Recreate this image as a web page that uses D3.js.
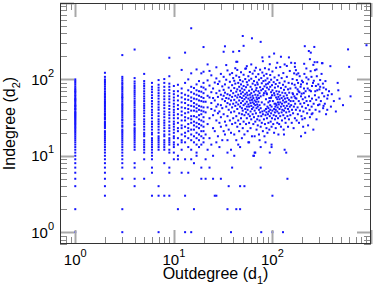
<!DOCTYPE html>
<html><head><meta charset="utf-8">
<script src="https://cdn.jsdelivr.net/npm/d3@7"></script>
<style>
html,body{margin:0;padding:0;background:#fff;}
svg{display:block;font-family:"Liberation Sans",Arial,sans-serif;}
</style></head>
<body><svg id="c" width="374" height="288"></svg>
<script>
// ---- data ----
const xDomain = [0.7, 1000];
const yDomain = [0.7, 1000];
const majorTicks = [1, 10, 100];
const tickExponents = ["0", "1", "2"];
const xTitle = "Outdegree (d";
const xTitleSub = "1";
const yTitle = "Indegree (d";
const yTitleSub = "2";

// integer-outdegree columns (d1 = columnX[i], d2 values = columnY[i])
const columnX = [1,2,3,4,5,6,7,8,9,10,11,12,13,14,15,16,17,18,19,20];
const columnY = [
 [1,2,4,5,6,7,8,9,10,11,12,13,14,15,16,17,18,19,20,21,22,23,24,25,26,27,28,29,30,31,32,33,34,35,36,37,38,40,41,42,44,45,46,48,50,52,54,55,57,60,62,65,68,70,73,76,80,85,90,95,100],
 [3,4,5,6,7,8,9,10,11,12,13,14,15,16,17,18,19,20,21,23,24,25,26,27,28,30,31,32,34,35,36,38,40,42,44,46,48,50,52,55,58,60,63,66,70,75,80,85,90,95,100,108,122],
 [1,2,5,7,8,9,10,11,12,13,14,15,16,17,18,19,20,21,22,24,25,27,29,30,32,34,36,38,40,42,44,46,48,51,54,57,59,62,65,69,73,77,81,86,90,96,102,108,208],
 [4,5,7,8,12,13,14,15,16,17,18,19,20,21,22,23,25,26,28,30,32,34,36,38,40,43,46,49,52,56,60,64,68,72,77,82,88,94,104,246],
 [5,9,11,12,13,14,15,16,18,19,20,22,24,26,28,30,33,36,39,42,45,48,52,56,60,65,70,76,82,88,95,118],
 [3,6,7,9,10,11,12,13,14,15,16,17,19,20,22,24,26,28,31,34,37,40,44,48,52,57,62,68,74,80,90],
 [1,3,4,12,13,14,15,16,17,18,20,22,24,26,28,30,33,36,40,43,47,51,56,61,66,72,78,85,98],
 [3,8,12,13,14,15,16,18,19,21,23,25,27,29,32,35,38,42,46,50,55,60,66,72,80,90,101],
 [3,6,7,11,12,14,15,16,17,19,21,23,25,28,31,34,37,41,45,50,55,60,66,73,80,88,110,192],
 [9,11,13,14,15,17,18,20,22,24,26,28,31,34,37,40,44,48,53,58,64,70,82],
 [2,9,10,14,17,21,23,27,31,35,41,46,53,61,70,85],
 [6,12,15,16,19,23,25,29,34,38,43,50,58,66,76,133],
 [1,3,9,15,18,20,24,29,32,36,42,49,55,63,90,224],
 [6,13,17,21,23,26,31,37,41,46,54,61,72,100],
 [1,9,12,16,19,22,27,30,33,39,45,52,58,68,80,120,467],
 [2,8,15,18,22,25,28,33,39,44,49,56,65,77],
 [10,11,14,17,20,24,27,32,38,42,47,55,63,72,86,135],
 [13,16,19,23,26,30,34,40,45,53,61,70,95],
 [5,7,14,18,21,25,29,35,39,44,52,59,69,80,120],
 [15,17,21,24,28,32,38,43,51,57,66,78,90,126,265]
];

// remaining nodes as [outdegree, indegree]
const scatterPoints = [
 [21,5],[21,9],[21,19],[21,37],[21,51],[21,74],[22,12],[22,157],[22,26],[22,43],[22,61],[22,97],
 [23,7],[23,129],[23,17],[23,31],[23,58],[23,83],[24,14],[24,41],[24,49],[24,68],[24,113],
 [25,5],[25,10],[25,23],[25,34],[25,57],[25,76],[26,3],[26,21],[26,39],[26,53],[26,91],
 [27,3],[27,144],[27,15],[27,29],[27,44],[27,66],[27,103],[28,18],[28,36],[28,47],[28,59],[28,87],
 [29,13],[29,27],[29,38],[29,71],[29,94],[30,5],[30,24],[30,32],[30,46],[30,63],[30,118],
 [31,16],[31,42],[31,55],[31,81],[32,230],[32,21],[32,35],[32,61],[32,73],[32,108],
 [33,271],[33,19],[33,28],[33,52],[33,67],[33,86],[34,154],[34,25],[34,44],[34,57],[34,99],
 [35,2],[35,11],[35,16],[35,33],[35,49],[35,64],[35,131],[36,4],[36,22],[36,40],[36,78],[36,56],
 [37,29],[37,47],[37,62],[37,93],[37,116],[38,1],[38,12],[38,20],[38,37],[38,53],[38,71],
 [39,7],[39,26],[39,43],[39,59],[39,84],[39,121],[40,230],[40,31],[40,48],[40,66],[40,104],
 [41,10],[41,19],[41,38],[41,54],[41,77],[41,96],[42,27],[42,45],[42,61],[42,140],[42,88],
 [43,2],[43,170],[43,16],[43,33],[43,50],[43,69],[43,112],[44,170],[44,24],[44,41],[44,58],[44,74],[44,133],
 [45,14],[45,29],[45,47],[45,63],[45,90],[46,235],[46,21],[46,36],[46,53],[46,80],[46,107],
 [47,2],[47,4],[47,13],[47,26],[47,44],[47,59],[47,71],[47,98],[48,31],[48,49],[48,65],[48,86],[48,124],
 [49,17],[49,35],[49,42],[49,57],[49,76],[50,370],[50,23],[50,39],[50,52],[50,68],[50,94],
 [51,275],[51,28],[51,46],[51,61],[51,82],[51,115],[52,4],[52,19],[52,34],[52,55],[52,73],
 [53,41],[53,48],[53,64],[53,101],[53,138],[54,139],[54,26],[54,37],[54,58],[54,79],
 [55,149],[55,31],[55,44],[55,51],[55,67],[55,92],[56,21],[56,40],[56,62],[56,85],
 [57,15],[57,35],[57,47],[57,56],[57,110],[58,15],[58,27],[58,44],[58,71],[58,97],
 [59,33],[59,53],[59,63],[59,125],[60,23],[60,38],[60,49],[60,58],[60,80],
 [61,157],[61,30],[61,45],[61,66],[61,102],[62,345],[62,18],[62,41],[62,54],[62,74],
 [63,35],[63,50],[63,61],[63,88],[63,119],[64,10],[64,26],[64,43],[64,57],
 [65,10],[65,32],[65,48],[65,69],[65,95],[66,11],[66,18],[66,39],[66,53],[66,130],
 [67,11],[67,28],[67,46],[67,63],[67,84],[68,142],[68,36],[68,51],[68,72],[68,108],
 [69,22],[69,42],[69,58],[69,77],[70,30],[70,47],[70,55],[70,91],
 [71,25],[71,44],[71,62],[71,86],[72,33],[72,51],[72,70],[72,117],[73,19],[73,40],[73,57],[73,99],
 [74,16],[74,29],[74,46],[74,66],[75,37],[75,79],[75,134],[76,310],[76,13],[76,7],[76,24],[76,42],[76,60],
 [77,1],[77,33],[77,72],[77,104],[78,27],[78,50],[78,89],[79,194],[79,38],[79,123],
 [80,173],[80,21],[80,35],[80,75],[81,62],[81,95],[82,30],[82,66],[82,112],
 [83,18],[83,39],[83,47],[83,81],[84,26],[84,140],[85,15],[85,34],[85,70],[85,97],
 [86,41],[86,55],[86,86],[87,23],[87,37],[87,66],[87,118],[88,31],[88,64],[88,78],
 [89,20],[89,44],[89,103],[90,35],[90,88],[91,27],[91,42],[91,50],
 [92,38],[92,74],[92,135],[93,198],[93,22],[93,57],[93,92],[94,11],[94,158],[94,33],[94,52],
 [95,40],[95,46],[95,80],[95,114],[96,28],[96,57],[97,36],[97,58],[97,68],[97,99],
 [98,13],[98,14],[98,24],[98,44],[99,31],[99,62],[99,84],
 [100,1],[100,3],[100,39],[100,72],[100,127],[101,52],[102,26],[103,34],[103,92],
 [104,218],[104,20],[104,41],[104,66],[105,48],[105,62],[105,106],[106,30],[106,37],[106,78],
 [107,44],[108,23],[108,40],[108,48],[108,87],[109,33],[109,58],[109,142],[110,46],[110,70],
 [112,165],[112,27],[112,38],[112,55],[112,98],[113,43],[113,64],[114,31],[114,50],[114,81],[115,19],[115,59],
 [116,36],[116,47],[116,113],[117,26],[117,69],[118,41],[118,55],[118,90],[120,33],[120,50],[120,62],[120,145],
 [122,198],[122,24],[122,44],[122,77],[124,37],[124,57],[124,104],[125,29],[125,48],[126,40],[126,67],
 [128,1],[128,53],[128,85],[129,34],[129,121],[130,22],[130,45],[130,60],[131,19],[131,39],[131,73],
 [133,157],[133,12],[133,50],[133,94],[134,31],[134,56],[135,42],[135,66],[136,27],[136,80],
 [138,11],[138,37],[138,51],[140,45],[140,62],[140,108],[140,150],[142,5],[142,33],[142,57],[144,24],[144,41],[144,74],
 [146,48],[146,90],[147,194],[147,30],[147,54],[148,38],[148,67],[150,44],[150,129],
 [152,34],[152,76],[153,52],[155,165],[155,46],[156,58],[157,27],[158,40],[158,88],[160,66],[160,101],[162,36],[162,64],[163,52],
 [164,23],[165,44],[166,120],[167,60],[168,85],[169,163],[169,146],[169,31],[170,48],[171,57],[172,78],[173,40],[173,132],[175,56],
 [176,116],[176,29],[177,98],[178,64],[180,43],[180,74],[181,35],[182,90],[183,120],[184,70],[185,52],[186,27],[188,68],[189,110],[190,39],
 [192,48],[193,80],[195,18],[195,60],[195,86],[197,33],[198,65],[199,96],[200,44],[201,30],[203,55],[204,92],[205,24],[206,38],
 [208,66],[209,76],[210,49],[210,160],[211,118],[213,272],[213,31],[215,58],[215,20],[217,70],[218,42],[221,139],[221,106],[222,52],[224,88],[225,36],
 [228,76],[230,46],[230,25],[232,100],[234,235],[235,60],[238,40],[238,72],[240,184],[240,32],[242,52],[244,128],[245,224],[246,70],[249,108],
 [250,44],[250,35],[252,56],[252,82],[255,36],[258,90],[260,22],[260,155],[262,48],[263,96],[266,266],[268,168],[270,132],[270,62],[272,70],[274,40],
 [276,82],[278,54],[280,30],[280,135],[282,110],[285,168],[285,72],[290,46],[292,86],[295,58],[300,38],[300,74],[300,47],
 [305,80],[305,98],[310,52],[315,118],[318,163],[320,66],[322,163],[325,88],[327,42],[330,78],[330,45],[335,60],[340,48],[345,95],[350,35],[350,74],[360,56],[360,40],
 [365,62],[375,70],[387,149],[392,44],[400,64],[420,52],[440,38],[459,90],[466,72],[480,56],[520,46],[585,247],[600,146],[620,60],[900,280]
];

// ---- chart ----
const W = 374, H = 288;
const m = {left: 60, right: 3, top: 3, bottom: 44};
const x0 = m.left, x1 = W - m.right, y0 = H - m.bottom, y1 = m.top;

const x = d3.scaleLog().domain(xDomain).range([x0, x1]);
const y = d3.scaleLog().domain(yDomain).range([y0, y1]);

const svg = d3.select("#c");

const pts = [];
columnX.forEach((cx, i) => columnY[i].forEach(v => pts.push([cx, v])));
scatterPoints.forEach(p => pts.push(p));

svg.append("g").selectAll("rect").data(pts).enter().append("rect")
  .attr("x", d => x(d[0]) - 1).attr("y", d => y(d[1]) - 1)
  .attr("width", 2).attr("height", 2)
  .attr("fill", "#1414ff");

// ticks (all four sides, pointing inward)
function tickVals(dom) {
  const out = [];
  for (let e = -1; e <= 3; e++) for (let k = 1; k <= 9; k++) {
    const v = k * Math.pow(10, e);
    if (v >= dom[0] - 1e-9 && v <= dom[1] + 1e-9) out.push({v, major: k === 1});
  }
  return out;
}
const tg = svg.append("g");
const MAJ = 14, MIN = 7;
tickVals(xDomain).forEach(t => {
  const px = Math.round(x(t.v)) + 0.5, L = t.major ? MAJ : MIN;
  const st = t.major ? "#a8a8a8" : "#8a8a8a", sw = t.major ? 2 : 1;
  tg.append("line").attr("x1", px).attr("x2", px).attr("y1", y0).attr("y2", y0 - L).attr("stroke", st).attr("stroke-width", sw);
  tg.append("line").attr("x1", px).attr("x2", px).attr("y1", y1).attr("y2", y1 + L).attr("stroke", st).attr("stroke-width", sw);
});
tickVals(yDomain).forEach(t => {
  const py = Math.round(y(t.v)) + 0.5, L = t.major ? MAJ : MIN;
  const st = t.major ? "#a8a8a8" : "#8a8a8a", sw = t.major ? 2 : 1;
  tg.append("line").attr("y1", py).attr("y2", py).attr("x1", x0).attr("x2", x0 + L).attr("stroke", st).attr("stroke-width", sw);
  tg.append("line").attr("y1", py).attr("y2", py).attr("x1", x1).attr("x2", x1 - L).attr("stroke", st).attr("stroke-width", sw);
});

// frame
svg.append("rect").attr("x", x0 + 0.5).attr("y", y1 + 0.5)
  .attr("width", x1 - x0 - 1).attr("height", y0 - y1 - 1)
  .attr("fill", "none").attr("stroke", "#333").attr("stroke-width", 1);

// tick labels
majorTicks.forEach((v, i) => {
  const t = svg.append("text").attr("x", x(v)).attr("y", 265)
    .attr("text-anchor", "middle").attr("font-size", 15).attr("fill", "#000");
  t.append("tspan").text("10");
  t.append("tspan").attr("font-size", 11).attr("dy", -8).text(tickExponents[i]);

  const u = svg.append("text").attr("x", 54).attr("y", y(v) + 5.5)
    .attr("text-anchor", "end").attr("font-size", 15).attr("fill", "#000");
  u.append("tspan").text("10");
  u.append("tspan").attr("font-size", 11).attr("dy", -8).text(tickExponents[i]);
});

// axis titles
const xt = svg.append("text").attr("x", (x0 + x1) / 2).attr("y", 279)
  .attr("text-anchor", "middle").attr("font-size", 16).attr("fill", "#000");
xt.append("tspan").text(xTitle);
xt.append("tspan").attr("font-size", 11).attr("dy", 5).text(xTitleSub);
xt.append("tspan").attr("dy", -5).text(")");

const yt = svg.append("text")
  .attr("transform", `translate(15,${(y0 + y1) / 2}) rotate(-90)`)
  .attr("text-anchor", "middle").attr("font-size", 16).attr("fill", "#000");
yt.append("tspan").text(yTitle);
yt.append("tspan").attr("font-size", 11).attr("dy", 5).text(yTitleSub);
yt.append("tspan").attr("dy", -5).text(")");
</script></body></html>
